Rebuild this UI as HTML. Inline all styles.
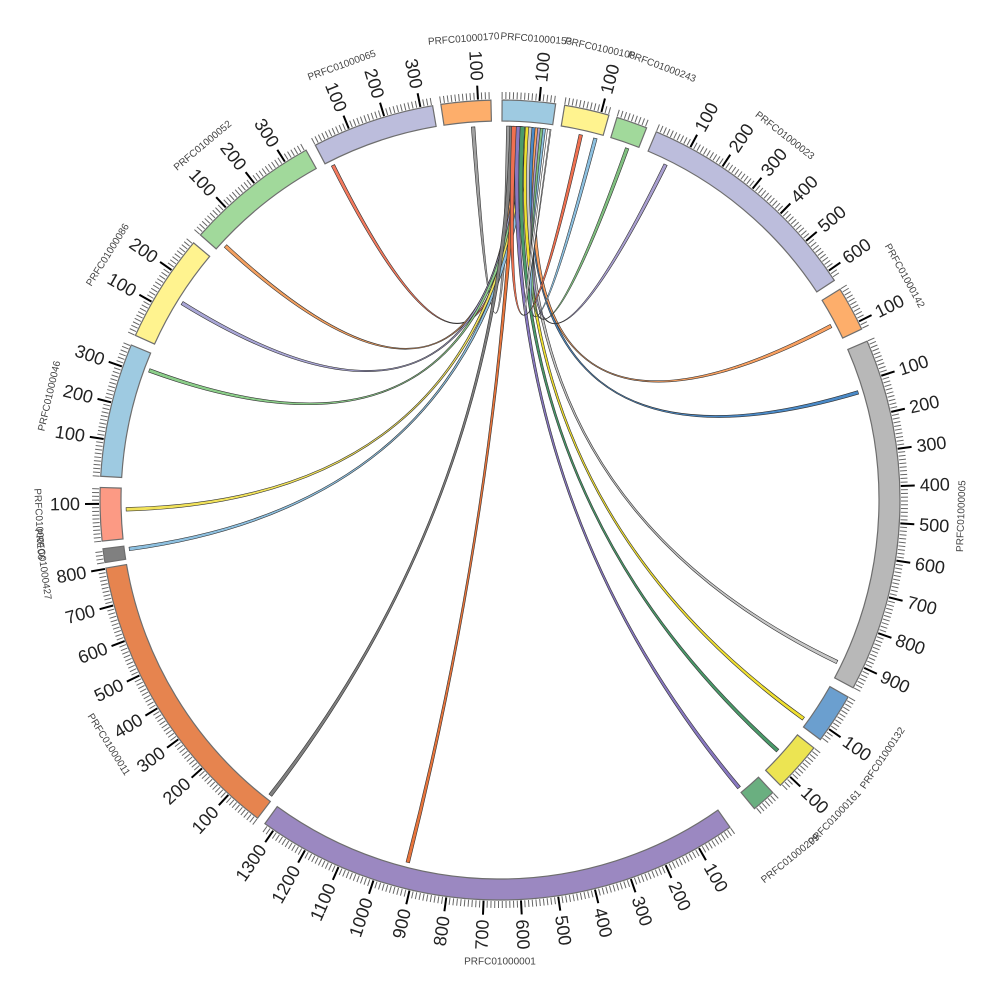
<!DOCTYPE html>
<html><head><meta charset="utf-8"><style>
html,body{margin:0;padding:0;background:#fff;}
svg{display:block;font-family:"Liberation Sans","DejaVu Sans",sans-serif;}
</style></head><body>
<svg id="c" width="1000" height="1000" viewBox="0 0 1000 1000" xmlns="http://www.w3.org/2000/svg"></svg>
<script>
var S=document.getElementById('c'),NS='http://www.w3.org/2000/svg';
var CX=500,CY=500,RI=379,RO=400,RL=374,U=0.0535;
function P(r,t){var a=t*Math.PI/180;return [CX+r*Math.sin(a),CY-r*Math.cos(a)];}
function el(n,at,txt){var e=document.createElementNS(NS,n);for(var k in at)e.setAttribute(k,at[k]);if(txt!=null)e.textContent=txt;S.appendChild(e);return e;}
var segs=[
['PRFC01000153','#9ecae1',0.3,8.0,4.5],
['PRFC01000108','#fff38f',9.3,15.8,12.5],
['PRFC01000243','#a1d99b',17,21.5,20.5],
['PRFC01000023','#bcbddc',23,56.7,38],
['PRFC01000142','#fdae6b',58.2,64.7,61],
['PRFC01000005','#b8b8b8',66.6,118,92],
['PRFC01000132','#6b9fcf',119.5,126.8,124],
['PRFC01000161','#ece452',128.3,135.5,133.5],
['PRFC01000209','#6aaf80',137,140.5,141],
['PRFC01000001','#9b88c1',144.9,216.0,180],
['PRFC01000011','#e6844f',217.3,260.2,238],
['PRFC01000427','#808080',261,263,262],
['PRFC01000106','#fc9a84',264.1,271.8,267],
['PRFC01000046','#9ecae1',273.4,292.8,283],
['PRFC01000086','#fff38f',294.3,310,302],
['PRFC01000052','#a1d99b',311.5,331,320],
['PRFC01000065','#bcbddc',332.5,350.3,340],
['PRFC01000170','#fdae6b',351.5,358.7,355.5]
];
var links=[
[355.6,1.0,'#a0a0a0'],[333.2,2.0,'#f47a5e'],[312.5,2.5,'#f4a060'],[301.5,2.9,'#a9a6d6'],
[290,3.3,'#8ccf8a'],[268.3,3.7,'#f2e35a'],[262.2,4.1,'#8dc0e0'],[217.6,1.5,'#808080'],
[194,2.2,'#e8743b'],[140,2.4,'#8878c0'],[131.8,3.1,'#4a9a6a'],[125.5,3.9,'#f0e030'],
[115.4,4.4,'#c8c8c8'],[73,4.9,'#4a8ac8'],[62,5.4,'#f9a060'],[26,5.8,'#a99fd0'],
[19.6,6.2,'#80c080'],[14.5,6.6,'#8cc0e0'],[12.2,1.8,'#f07050'],[7.3,7.0,'#ffffff']
];
var w=0.55,w2=0.7;
links.forEach(function(l){
 var a1=l[0],a2=a1+w,b1=l[1],b2=b1+w2;
 var A1=P(RL,a1),A2=P(RL,a2),B1=P(RL,b1),B2=P(RL,b2);
 var d='M'+A1+' A'+RL+' '+RL+' 0 0 1 '+A2+' Q'+CX+' '+CY+' '+B1+' A'+RL+' '+RL+' 0 0 1 '+B2+' Q'+CX+' '+CY+' '+A1+'Z';
 el('path',{d:d,fill:l[2],stroke:'#333','stroke-width':0.6});
});
segs.forEach(function(s){
 var a=s[2],b=s[3],big=(b-a)>180?1:0;
 var o1=P(RO,a),o2=P(RO,b),i1=P(RI,b),i2=P(RI,a);
 el('path',{d:'M'+o1+' A'+RO+' '+RO+' 0 '+big+' 1 '+o2+' L'+i1+' A'+RI+' '+RI+' 0 '+big+' 0 '+i2+'Z',fill:s[1],stroke:'#6e6e6e','stroke-width':1.2});
 var n=Math.floor((b-a)/(10*U)+0.001);
 for(var k=0;k<=n;k++){
  var t=a+k*10*U;
  if(k%10==0&&k>0){
   var p=P(RO+1,t),q=P(RO+15,t);
   el('line',{x1:p[0],y1:p[1],x2:q[0],y2:q[1],stroke:'#000','stroke-width':2});
   var lp=P(RO+20,t),rot,anc;
   if(t<180){rot=t-90;anc='start';}else{rot=t+90;anc='end';}
   el('text',{x:lp[0],y:lp[1],'font-size':18,fill:'#222','text-anchor':anc,'dominant-baseline':'central',transform:'rotate('+rot+' '+lp[0]+' '+lp[1]+')'},String(k*10));
  }else{
   var p2=P(RO+1,t),q2=P(RO+8,t);
   el('line',{x1:p2[0],y1:p2[1],x2:q2[0],y2:q2[1],stroke:'#666','stroke-width':1});
  }
 }
 var t=s[4],np=P(462,t),r2=(t<90||t>270)?t:t+180;
 el('text',{x:np[0],y:np[1],'font-size':10,fill:'#444','text-anchor':'middle','dominant-baseline':'central',transform:'rotate('+r2+' '+np[0]+' '+np[1]+')'},s[0]);
});
</script>
</body></html>
